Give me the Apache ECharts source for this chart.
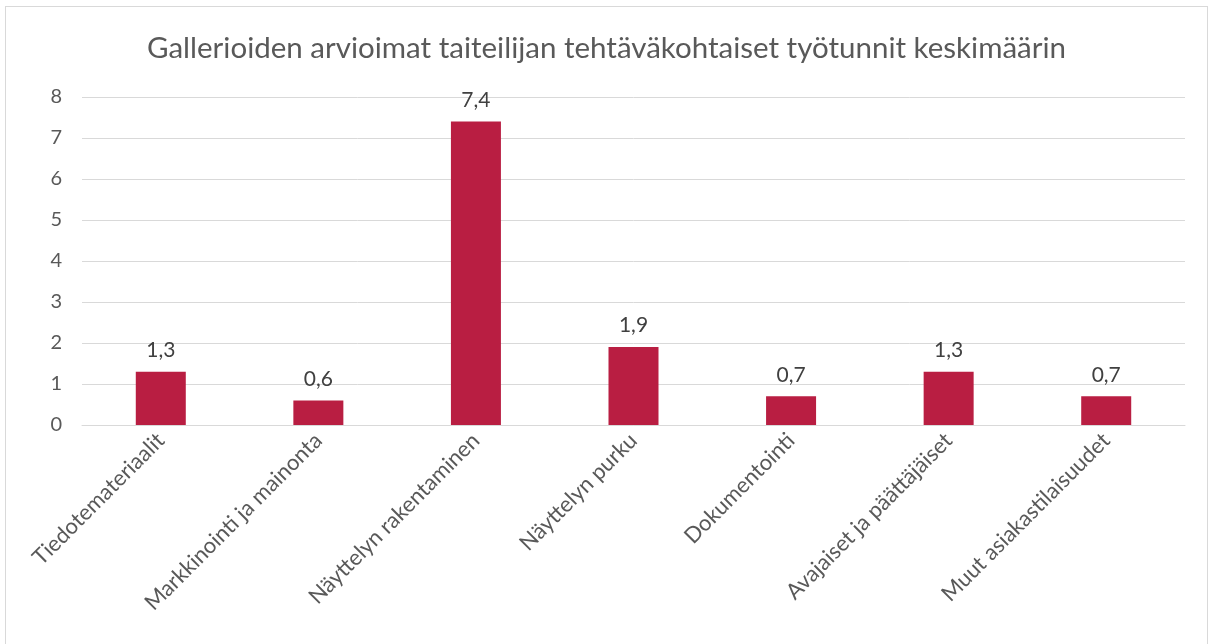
<!DOCTYPE html>
<html>
<head>
<meta charset="utf-8">
<script src="https://cdn.jsdelivr.net/npm/echarts@6/dist/echarts.min.js"></script>
<style>
  html, body { margin: 0; padding: 0; background: #fff; }
  #frame { position: absolute; left: 5px; top: 6px; width: 1203px; height: 650px; border: 1px solid #d9d9d9; box-sizing: border-box; }
  #chart { position: absolute; left: 0; top: 0; width: 1213px; height: 644px; }
</style>
</head>
<body>
<div id="frame"></div>
<div id="chart"></div>
<script>
const categories = ['Tiedotemateriaalit', 'Markkinointi ja mainonta', 'Näyttelyn rakentaminen', 'Näyttelyn purku', 'Dokumentointi', 'Avajaiset ja päättäjäiset', 'Muut asiakastilaisuudet']
const values = [1.3, 0.6, 7.4, 1.9, 0.7, 1.3, 0.7]
const titleText = 'Gallerioiden arvioimat taiteilijan tehtäväkohtaiset työtunnit keskimäärin'

const font = 'Lato, "Open Sans", sans-serif'
let myChart = echarts.init(document.getElementById('chart'))

let option = {
  title: {
    text: titleText,
    left: 'center',
    top: 28,
    textStyle: { fontFamily: font, fontSize: 29.5, fontWeight: 'normal', color: '#595959' }
  },
  grid: { left: 82, right: 28, top: 97, bottom: 219 },
  xAxis: {
    type: 'category',
    data: categories,
    axisLine: { lineStyle: { color: '#d9d9d9' } },
    axisTick: { show: false },
    axisLabel: {
      rotate: 45,
      interval: 0,
      margin: 12,
      fontFamily: font,
      fontSize: 22,
      color: '#595959'
    }
  },
  yAxis: {
    type: 'value',
    min: 0,
    max: 8,
    interval: 1,
    axisLine: { show: false },
    axisTick: { show: false },
    splitLine: { lineStyle: { color: '#d9d9d9' } },
    axisLabel: { fontFamily: font, fontSize: 20, color: '#595959', margin: 20 }
  },
  series: [{
    type: 'bar',
    data: values,
    barWidth: 50,
    itemStyle: { color: '#b91e42' },
    label: {
      show: true,
      position: 'top',
      distance: 11,
      fontFamily: font,
      fontSize: 21,
      color: '#404040',
      formatter: (p) => String(p.value).replace('.', ',')
    }
  }]
}
myChart.setOption(option)
</script>
</body>
</html>
